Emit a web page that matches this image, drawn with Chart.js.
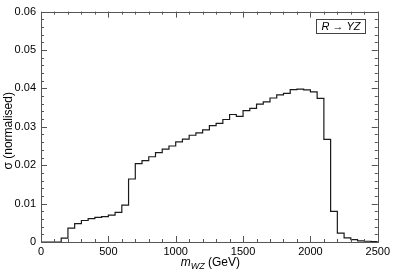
<!DOCTYPE html>
<html>
<head>
<meta charset="utf-8">
<script src="https://cdn.jsdelivr.net/npm/chart.js@4.4.1/dist/chart.umd.min.js"></script>
<style>
  html, body { margin: 0; padding: 0; background: #fff; }
</style>
</head>
<body>
<canvas id="chart" width="393" height="273"></canvas>
<script>
// lower edge of each 50 GeV bin
const binLow = [
  0, 50, 100, 150, 200, 250, 300, 350, 400, 450,
  500, 550, 600, 650, 700, 750, 800, 850, 900, 950,
  1000, 1050, 1100, 1150, 1200, 1250, 1300, 1350, 1400, 1450,
  1500, 1550, 1600, 1650, 1700, 1750, 1800, 1850, 1900, 1950,
  2000, 2050, 2100, 2150, 2200, 2250, 2300, 2350, 2400, 2450
];
const binEnd = 2500;
// normalised cross section per bin
const sigma = [
  0, 0, 0, 0.0010, 0.0036, 0.0048, 0.0056, 0.0061, 0.0064, 0.0066,
  0.0070, 0.0077, 0.0096, 0.0164, 0.0204, 0.0212, 0.0222, 0.0233, 0.0242, 0.0250,
  0.0261, 0.0268, 0.0278, 0.0284, 0.0292, 0.0303, 0.0309, 0.0319, 0.0332, 0.0327,
  0.0342, 0.0348, 0.0359, 0.0365, 0.0375, 0.0383, 0.0387, 0.0397, 0.0398, 0.0396,
  0.0391, 0.0374, 0.0267, 0.0080, 0.0023, 0.0011, 0.0006, 0.0003, 0.0002, 0.0001
];
const xTicks = [0, 500, 1000, 1500, 2000, 2500];
const yTicks = [0, 0.01, 0.02, 0.03, 0.04, 0.05, 0.06];
const legendLabel = 'R \u2192 YZ';

const FRAME = '#555';
const FONT = '"Liberation Sans", Arial, sans-serif';

// step points: one per lower edge plus the closing edge
const points = binLow.map((x, i) => ({ x: x, y: sigma[i] }));
points.push({ x: binEnd, y: sigma[sigma.length - 1] });

// frame, inward ticks on all sides, axis titles and the legend box
const decorations = {
  id: 'decorations',
  afterDraw(chart) {
    const ctx = chart.ctx;
    const xs = chart.scales.x, ys = chart.scales.y;
    const a = chart.chartArea;
    ctx.save();
    ctx.strokeStyle = FRAME;
    ctx.lineWidth = 1;
    ctx.strokeRect(Math.round(a.left) + 0.5, Math.round(a.top) + 0.5,
      Math.round(a.right - a.left), Math.round(a.bottom - a.top));

    ctx.beginPath();
    for (let v = 0; v <= 2500; v += 100) {
      const px = Math.round(xs.getPixelForValue(v)) + 0.5;
      const len = v % 500 === 0 ? 6 : 3;
      ctx.moveTo(px, a.bottom); ctx.lineTo(px, a.bottom - len);
      ctx.moveTo(px, a.top); ctx.lineTo(px, a.top + len);
    }
    for (let k = 0; k <= 30; k++) {
      const v = k * 0.002;
      const py = Math.round(ys.getPixelForValue(v)) + 0.5;
      const len = k % 5 === 0 ? 6 : 3;
      ctx.moveTo(a.left, py); ctx.lineTo(a.left + len, py);
      ctx.moveTo(a.right, py); ctx.lineTo(a.right - len, py);
    }
    ctx.stroke();

    // x title: m_WZ (GeV)
    ctx.fillStyle = '#000';
    ctx.textBaseline = 'alphabetic';
    const baseY = 266;
    ctx.font = 'italic 12px ' + FONT;
    const wM = ctx.measureText('m').width;
    ctx.font = 'italic 9px ' + FONT;
    const wSub = ctx.measureText('WZ').width;
    ctx.font = '12px ' + FONT;
    const wRest = ctx.measureText(' (GeV)').width;
    let x0 = (a.left + a.right) / 2 - (wM + wSub + wRest) / 2 + 1;
    ctx.font = 'italic 12px ' + FONT;
    ctx.textAlign = 'left';
    ctx.fillText('m', x0, baseY);
    ctx.font = 'italic 9px ' + FONT;
    ctx.fillText('WZ', x0 + wM, baseY + 3);
    ctx.font = '12px ' + FONT;
    ctx.fillText(' (GeV)', x0 + wM + wSub, baseY);

    // y title
    ctx.save();
    ctx.translate(12, (a.top + a.bottom) / 2 + 4);
    ctx.rotate(-Math.PI / 2);
    ctx.textAlign = 'center';
    ctx.font = '12px ' + FONT;
    ctx.fillText('\u03c3 (normalised)', 0, 0);
    ctx.restore();

    // legend box
    ctx.strokeStyle = '#444';
    ctx.strokeRect(316.5, 19.5, 49, 14);
    ctx.font = 'italic 11px ' + FONT;
    ctx.textAlign = 'center';
    ctx.textBaseline = 'middle';
    ctx.fillText(legendLabel, 341, 27);
    ctx.restore();
  }
};

new Chart(document.getElementById('chart'), {
  type: 'line',
  data: {
    datasets: [{
      data: points,
      stepped: 'before', // hold each bin's value until the next edge
      borderColor: '#1a1a1a',
      borderWidth: 1.2,
      pointRadius: 0,
      fill: false
    }]
  },
  options: {
    responsive: false,
    animation: false,
    devicePixelRatio: 1,
    layout: { padding: { top: 5, right: 14, left: 0, bottom: 0 } },
    plugins: { legend: { display: false }, tooltip: { enabled: false } },
    scales: {
      x: {
        type: 'linear',
        min: 0, max: 2500,
        afterBuildTicks: s => { s.ticks = xTicks.map(v => ({ value: v })); },
        ticks: { color: '#000', padding: 3, maxRotation: 0, font: { family: FONT, size: 11 },
                 callback: v => String(v) },
        grid: { display: false, drawTicks: false },
        border: { display: false },
        afterFit: s => { s.height = 31; }
      },
      y: {
        type: 'linear',
        min: 0, max: 0.06,
        afterBuildTicks: s => { s.ticks = yTicks.map(v => ({ value: v })); },
        ticks: { color: '#000', padding: 5, font: { family: FONT, size: 11 },
                 callback: v => String(v) },
        grid: { display: false, drawTicks: false },
        border: { display: false },
        afterFit: s => { s.width = 41; }
      }
    }
  },
  plugins: [decorations]
});
</script>
</body>
</html>
